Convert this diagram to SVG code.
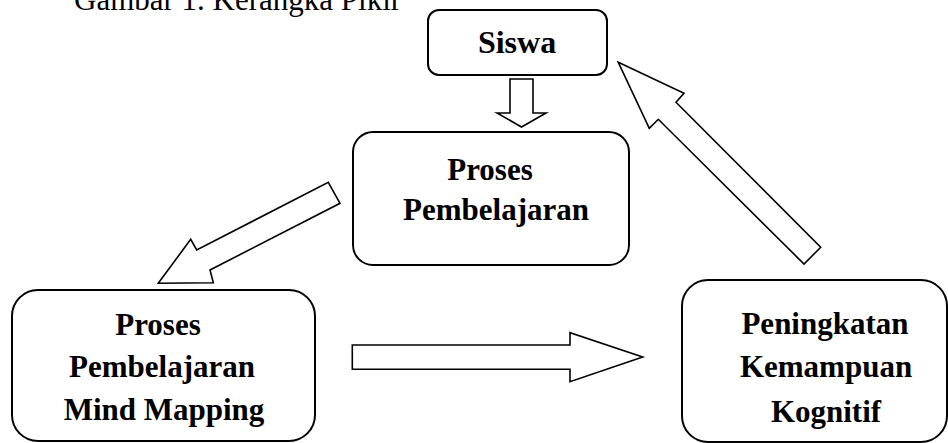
<svg xmlns="http://www.w3.org/2000/svg" width="948" height="443" viewBox="0 0 948 443">
<style>
.box{fill:#fff;stroke:#000;stroke-width:2}
.arr{fill:#fff;stroke:#000;stroke-width:1.6;stroke-linejoin:miter}
.lbl{font-family:"Liberation Serif","Times New Roman",serif;font-weight:bold;font-size:31px;fill:#000;text-anchor:middle}
.title{font-family:"Liberation Serif","Times New Roman",serif;font-size:31px;fill:#000}
</style>
<rect width="948" height="443" fill="#fff"/>
<text class="title" x="74" y="10">Gambar 1. Kerangka Pikir</text>
<g id="siswa">
<rect class="box" x="428" y="10" width="179" height="65" rx="11"/>
<text class="lbl" x="517" y="53" style="font-size:32px">Siswa</text>
</g>
<g id="proses">
<rect class="box" x="353" y="132" width="276" height="133" rx="20"/>
<text class="lbl" x="490" y="180">Proses</text>
<text class="lbl" x="496" y="220">Pembelajaran</text>
</g>
<g id="mindmapping">
<rect class="box" x="12" y="290" width="303" height="151" rx="26"/>
<text class="lbl" x="158" y="335">Proses</text>
<text class="lbl" x="162" y="377">Pembelajaran</text>
<text class="lbl" x="164" y="420">Mind Mapping</text>
</g>
<g id="peningkatan">
<rect class="box" x="682" y="280" width="265" height="162" rx="26"/>
<text class="lbl" x="825" y="334">Peningkatan</text>
<text class="lbl" x="826" y="377">Kemampuan</text>
<text class="lbl" x="826" y="422">Kognitif</text>
</g>
<g id="connectors">
<polygon class="arr" points="510,79 533,79 533,113 546,113 521.5,127 497,113 510,113"/>
<polygon class="arr" points="328.3,182.3 340,203.3 210,270 213.3,282.7 158.3,283.3 190.7,239.3 196.7,250"/>
<polygon class="arr" points="352.3,345 570,345 570,332.7 642.7,357 570,381.7 570,369.3 352.3,369.3"/>
<polygon class="arr" points="618.3,62.3 684,93.3 676,102.3 820.7,247.3 804,264 658.3,119.3 649.3,128.3"/>
</g>
</svg>
